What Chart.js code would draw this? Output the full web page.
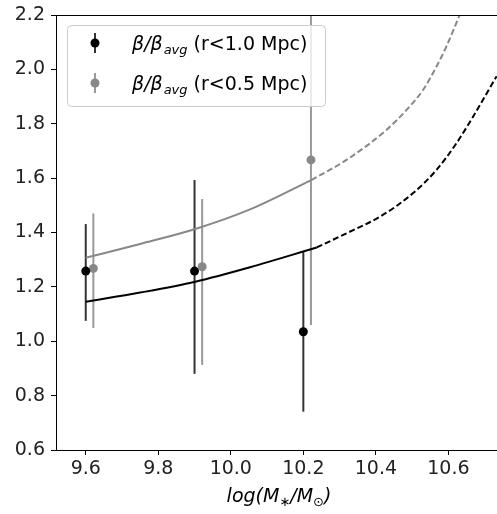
<!DOCTYPE html>
<html>
<head>
<meta charset="utf-8">
<script src="https://cdn.jsdelivr.net/npm/chart.js@4/dist/chart.umd.min.js"></script>
<style>
  html, body { margin: 0; padding: 0; background: #fff; }
  #wrap { width: 497px; height: 514px; }
</style>
</head>
<body>
<div id="wrap"><canvas id="chart" width="497" height="514"></canvas></div>
<script>
// ── Dades llegides de la figura ──────────────────────────────────────────────
const xTicks = [9.6, 9.8, 10.0, 10.2, 10.4, 10.6];
const yTicks = [0.6, 0.8, 1.0, 1.2, 1.4, 1.6, 1.8, 2.0, 2.2];

// r < 1.0 Mpc (negre)
const blackX  = [9.6, 9.9, 10.2];
const blackY  = [1.258, 1.258, 1.035];
const blackLo = [1.075, 0.88, 0.741];
const blackHi = [1.431, 1.593, 1.328];

// r < 0.5 Mpc (gris)
const grayX  = [9.621, 9.921, 10.221];
const grayY  = [1.268, 1.274, 1.667];
const grayLo = [1.049, 0.913, 1.06];
const grayHi = [1.47, 1.523, 2.25];

// corbes d'ajust: tram sòlid + tram discontinu
const blackFitX  = [9.6, 9.75, 9.902, 10.053, 10.237];
const blackFitY  = [1.145, 1.179, 1.219, 1.272, 1.345];
const blackDashX = [10.237, 10.319, 10.411, 10.502, 10.567, 10.622, 10.668, 10.733];
const blackDashY = [1.345, 1.397, 1.458, 1.544, 1.63, 1.728, 1.826, 1.975];
const grayFitX   = [9.6, 9.75, 9.902, 10.053, 10.222];
const grayFitY   = [1.307, 1.358, 1.413, 1.485, 1.593];
const grayDashX  = [10.222, 10.319, 10.429, 10.484, 10.530, 10.567, 10.594, 10.631];
const grayDashY  = [1.593, 1.667, 1.777, 1.85, 1.924, 2.01, 2.083, 2.2];

const legendLabels = ['(r<1.0 Mpc)', '(r<0.5 Mpc)'];

const COLORS = {
  black:    '#000000',
  blackBar: '#333333',
  gray:     '#888888',
  grayBar:  '#999999',
};
const FONT = "'DejaVu Sans', sans-serif";

const pts = (xs, ys) => xs.map((x, i) => ({ x, y: ys[i] }));

// ── Barres d'error, espina superior, llegenda i títol de l'eix X ─────────────
const errorBarsPlugin = {
  id: 'errorBars',
  beforeDatasetsDraw(chart) {
    const { ctx, chartArea: a, scales: { x, y } } = chart;
    ctx.save();
    ctx.beginPath();
    ctx.rect(a.left, a.top, a.right - a.left, a.bottom - a.top);
    ctx.clip();
    ctx.lineWidth = 2;
    const draw = (xs, lo, hi, color) => {
      ctx.strokeStyle = color;
      xs.forEach((v, i) => {
        const px = x.getPixelForValue(v);
        ctx.beginPath();
        ctx.moveTo(px, y.getPixelForValue(lo[i]));
        ctx.lineTo(px, y.getPixelForValue(hi[i]));
        ctx.stroke();
      });
    };
    draw(blackX, blackLo, blackHi, COLORS.blackBar);
    draw(grayX, grayLo, grayHi, COLORS.grayBar);
    ctx.restore();
  },
  afterDraw(chart) {
    const { ctx, chartArea: a } = chart;
    ctx.save();

    // espina superior (estil matplotlib)
    ctx.strokeStyle = '#000';
    ctx.lineWidth = 1;
    ctx.beginPath();
    ctx.moveTo(a.left, a.top + 0.5);
    ctx.lineTo(a.right, a.top + 0.5);
    ctx.stroke();

    // llegenda
    const lx = 67, ly = 25, lw = 258, lh = 81, r = 4;
    ctx.fillStyle = 'rgba(255,255,255,0.8)';
    ctx.strokeStyle = '#cccccc';
    ctx.lineWidth = 1;
    ctx.beginPath();
    ctx.roundRect(lx + 0.5, ly + 0.5, lw, lh, r);
    ctx.fill();
    ctx.stroke();

    const rows = [
      { y: 43, dot: COLORS.black, bar: COLORS.blackBar, label: legendLabels[0] },
      { y: 83, dot: COLORS.gray,  bar: COLORS.grayBar,  label: legendLabels[1] },
    ];
    rows.forEach(row => {
      ctx.strokeStyle = row.bar;
      ctx.lineWidth = 2;
      ctx.beginPath();
      ctx.moveTo(95, row.y - 10);
      ctx.lineTo(95, row.y + 10);
      ctx.stroke();
      ctx.fillStyle = row.dot;
      ctx.beginPath();
      ctx.arc(95, row.y, 4.5, 0, Math.PI * 2);
      ctx.fill();

      ctx.fillStyle = '#000';
      ctx.textBaseline = 'alphabetic';
      ctx.textAlign = 'left';
      let tx = 132;
      const base = row.y + 7;
      ctx.font = `italic 19px ${FONT}`;
      ctx.fillText('β/β', tx, base);
      tx += ctx.measureText('β/β').width + 1;
      ctx.font = `italic 13px ${FONT}`;
      ctx.fillText('avg', tx, base + 4);
      tx += ctx.measureText('avg').width;
      ctx.font = `19px ${FONT}`;
      ctx.fillText(' ' + row.label, tx, base);
    });

    // títol de l'eix X: log(M*/M⊙)
    const parts = [
      { t: 'log(M', size: 19, dy: 0 },
      { t: '∗',     size: 13, dy: 4 },
      { t: '/M',    size: 19, dy: 0 },
      { t: '⊙',     size: 13, dy: 4 },
      { t: ')',     size: 19, dy: 0 },
    ];
    let total = 0;
    parts.forEach(p => {
      ctx.font = `italic ${p.size}px ${FONT}`;
      p.w = ctx.measureText(p.t).width;
      total += p.w;
    });
    let cx = 279 - total / 2;
    parts.forEach(p => {
      ctx.font = `italic ${p.size}px ${FONT}`;
      ctx.fillText(p.t, cx, 502 + p.dy);
      cx += p.w;
    });

    ctx.restore();
  }
};

// ── Gràfic ───────────────────────────────────────────────────────────────────
const lineStyle = (color, dash) => ({
  type: 'line',
  borderColor: color,
  borderWidth: 2,
  borderDash: dash,
  pointRadius: 0,
  fill: false,
  cubicInterpolationMode: 'monotone',
});

// sense marges extra per les etiquetes: l'àrea de dibuix arriba a la vora dreta
const noScalePadding = s => {
  s.paddingLeft = 0; s.paddingRight = 0;
  s.paddingTop = 0;  s.paddingBottom = 0;
};

new Chart(document.getElementById('chart'), {
  type: 'scatter',
  data: {
    datasets: [
      { ...lineStyle(COLORS.black, []),     data: pts(blackFitX, blackFitY) },
      { ...lineStyle(COLORS.black, [6, 3]), data: pts(blackDashX, blackDashY) },
      { ...lineStyle(COLORS.gray, []),      data: pts(grayFitX, grayFitY) },
      { ...lineStyle(COLORS.gray, [6, 3]),  data: pts(grayDashX, grayDashY) },
      {
        data: pts(blackX, blackY),
        backgroundColor: COLORS.black, borderWidth: 0, pointRadius: 4.5,
      },
      {
        data: pts(grayX, grayY),
        backgroundColor: COLORS.gray, borderWidth: 0, pointRadius: 4.5,
      },
    ]
  },
  options: {
    responsive: false,
    animation: false,
    events: [],
    layout: { autoPadding: false, padding: { top: 15, right: 0, left: 0, bottom: 0 } },
    plugins: { legend: { display: false }, tooltip: { enabled: false } },
    scales: {
      x: {
        type: 'linear',
        min: 9.518,
        max: 10.734,
        afterFit: s => { s.height = 64; noScalePadding(s); },
        afterBuildTicks: s => { s.ticks = xTicks.map(v => ({ value: v })); },
        border: { display: true, color: '#000', width: 1 },
        grid: { drawOnChartArea: false, drawTicks: true, tickLength: 5, color: '#000' },
        ticks: {
          color: '#222', padding: 3, maxRotation: 0,
          font: { family: FONT, size: 19 },
          callback: v => v.toFixed(1),
        },
      },
      y: {
        type: 'linear',
        min: 0.6,
        max: 2.2,
        afterFit: s => { s.width = 56; noScalePadding(s); },
        afterBuildTicks: s => { s.ticks = yTicks.map(v => ({ value: v })); },
        border: { display: true, color: '#000', width: 1 },
        grid: { drawOnChartArea: false, drawTicks: true, tickLength: 5, color: '#000' },
        ticks: {
          color: '#222', padding: 6,
          font: { family: FONT, size: 19 },
          callback: v => v.toFixed(1),
        },
      },
    },
  },
  plugins: [errorBarsPlugin],
});
</script>
</body>
</html>
